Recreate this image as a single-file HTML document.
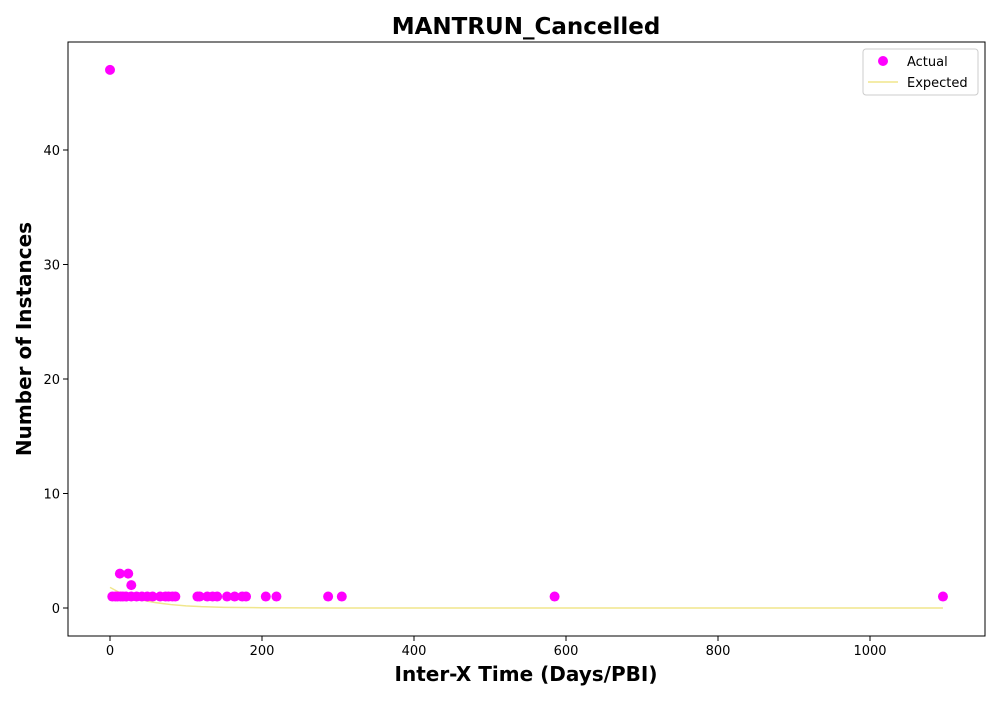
<!DOCTYPE html>
<html><head><meta charset="utf-8"><style>
body{margin:0;background:#fff;font-family:"Liberation Sans",sans-serif}
svg text{font-family:"DejaVu Sans","Liberation Sans",sans-serif}
</style></head><body>
<svg id="c" width="1000" height="700" xmlns="http://www.w3.org/2000/svg"></svg>
<script>
const actualX=[0,3,7,10,14,17,21,28,35,42,49,56,66,73,77,82,86,115,118,128,135,141,154,164,174,179,205,219,287,305,585,1096,13,24,28];
const actualY=[47,1,1,1,1,1,1,1,1,1,1,1,1,1,1,1,1,1,1,1,1,1,1,1,1,1,1,1,1,1,1,1,3,3,2];
const expX=[0,10,20,30,40,50,60,70,80,100,120,150,200,300,500,800,1096];
const expY=[1.8,1.44,1.15,0.92,0.74,0.59,0.47,0.38,0.3,0.19,0.12,0.06,0.02,0.003,0,0,0];
const xTicks=[0,200,400,600,800,1000];
const yTicks=[0,10,20,30,40];
const L=68,R=985,T=42,B=636;
const sx=v=>110+v*0.76, sy=v=>608-v*11.45;
const svg=document.getElementById('c');const NS='http://www.w3.org/2000/svg';
function mk(t,a,txt){const e=document.createElementNS(NS,t);for(const k in a)e.setAttribute(k,a[k]);if(txt!==undefined)e.textContent=txt;svg.appendChild(e);return e;}
let e=mk('rect',{x:L,y:T,width:R-L,height:B-T,fill:'none',stroke:'#000','stroke-width':1});


xTicks.forEach(v=>{mk('line',{x1:sx(v),x2:sx(v),y1:B,y2:B+5,stroke:'#000'});
 e=mk('text',{x:sx(v),y:B+19,'text-anchor':'middle','font-size':13},v);
 
 });
yTicks.forEach(v=>{mk('line',{x1:L-5,x2:L,y1:sy(v),y2:sy(v),stroke:'#000'});
 e=mk('text',{x:L-8,y:sy(v)+5,'text-anchor':'end','font-size':13},v);
 
 });
let d=expX.map((x,i)=>(i?'L':'M')+sx(x)+','+sy(expY[i])).join(' ');
e=mk('path',{d:d,fill:'none',stroke:'#f0e68c','stroke-width':1.5});


actualX.forEach((x,i)=>{e=mk('circle',{cx:sx(x),cy:sy(actualY[i]),r:5,fill:'#ff00ff'});
 
 });
e=mk('text',{x:526,y:34,'text-anchor':'middle','font-size':23,'font-weight':'bold'},'MANTRUN_Cancelled');


e=mk('text',{x:526,y:681,'text-anchor':'middle','font-size':20,'font-weight':'bold'},'Inter-X Time (Days/PBI)');


e=mk('text',{x:31,y:339,'text-anchor':'middle','font-size':20,'font-weight':'bold',transform:'rotate(-90 31 339)'},'Number of Instances');


e=mk('rect',{x:863,y:49,width:115,height:46,rx:3,fill:'#fff',stroke:'#ccc'});


mk('circle',{cx:883,cy:61,r:5,fill:'#ff00ff'});
e=mk('text',{x:907,y:66,'font-size':13},'Actual');


mk('line',{x1:868,x2:898,y1:82,y2:82,stroke:'#f0e68c','stroke-width':1.5});
e=mk('text',{x:907,y:87,'font-size':13},'Expected');


</script></body></html>
